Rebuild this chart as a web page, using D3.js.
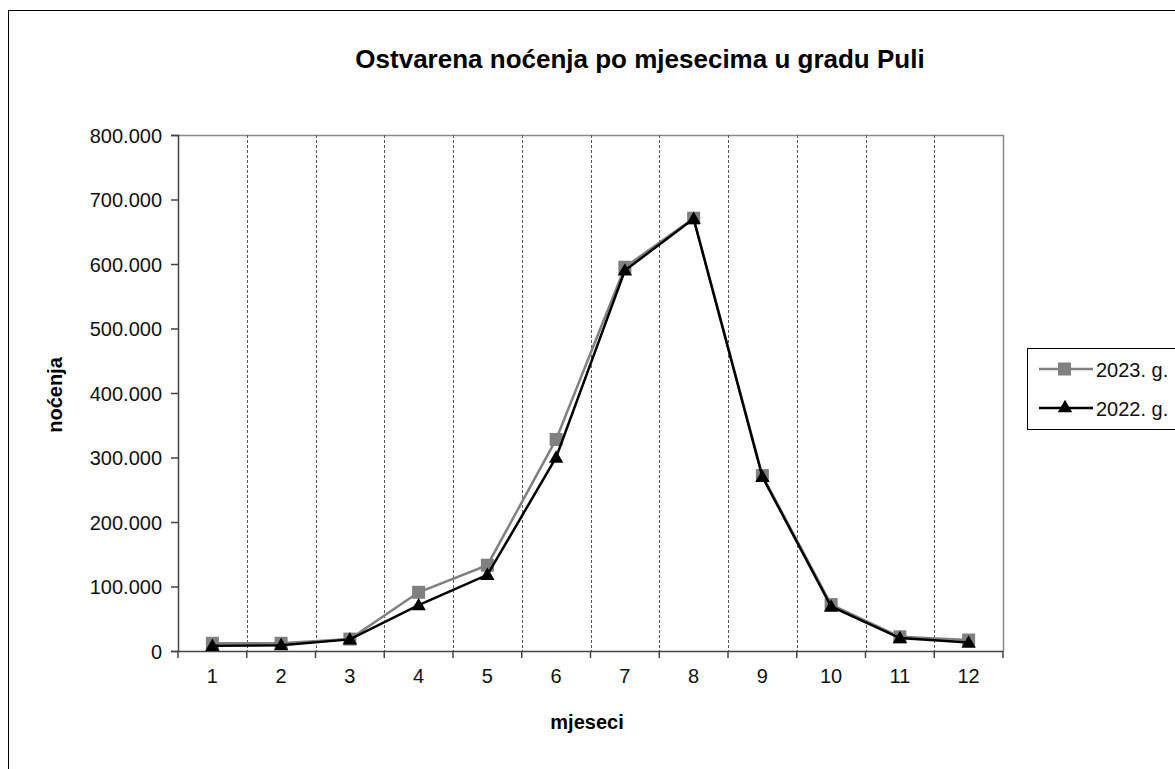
<!DOCTYPE html>
<html><head><meta charset="utf-8">
<script src="https://cdn.jsdelivr.net/npm/d3@7"></script>
<style>body{margin:0;background:#fff}svg{display:block;font-family:"Liberation Sans",Arial,sans-serif}</style>
</head><body>
<svg id="c" width="1175" height="769"></svg>
<script>
const months = ["1","2","3","4","5","6","7","8","9","10","11","12"];
const values2023 = [12000, 12000, 18500, 91000, 133000, 328000, 595000, 671000, 272000, 72000, 22000, 17000];
const values2022 = [8000, 9000, 18000, 71000, 118000, 300000, 590000, 670000, 270000, 69000, 20000, 13000];
const yTicks = [0,100000,200000,300000,400000,500000,600000,700000,800000];
const seriesNames = ["2023. g.", "2022. g."];

const svg = d3.select("#c");
const L=178, R=1003, T=135, B=651;
const x = d3.scaleBand().domain(months).range([L,R]);
const y = d3.scaleLinear().domain([0,800000]).range([B,T]);
const fmt = v => v===0 ? "0" : d3.format(",")(v).replace(/,/g,".");
const FF = "Liberation Sans, Arial, sans-serif";

// outer frame
svg.append("rect").attr("x",8.5).attr("y",10.5).attr("width",1200).attr("height",800)
  .attr("fill","none").attr("stroke","#000").attr("stroke-width",1);

// plot border (top, right)
svg.append("path").attr("d",`M${L},${T+0.5}H${R+0.5}V${B}`).attr("fill","none").attr("stroke","#888").attr("stroke-width",1.5);

// vertical dashed gridlines at band boundaries
const bounds = months.slice(1).map(m=>x(m));
svg.append("g").selectAll("line").data(bounds).join("line")
  .attr("x1",d=>Math.round(d)+0.5).attr("x2",d=>Math.round(d)+0.5).attr("y1",T).attr("y2",B)
  .attr("stroke","#555").attr("stroke-width",1).attr("stroke-dasharray","3,2");

// y axis
const ya = svg.append("g").attr("transform",`translate(${L},0)`)
  .call(d3.axisLeft(y).tickValues(yTicks).tickFormat(fmt).tickSize(7).tickPadding(9));
ya.select(".domain").attr("stroke","#444").attr("stroke-width",1.5);
ya.selectAll(".tick line").attr("stroke","#444").attr("stroke-width",1.5);
ya.selectAll("text").attr("font-size",20).attr("fill","#111").attr("font-family",FF).attr("dy","0.36em");

// x axis
const xa = svg.append("g").attr("transform",`translate(0,${B})`)
  .call(d3.axisBottom(x).tickSize(0).tickPadding(18));
xa.select(".domain").attr("stroke","#444").attr("stroke-width",1.5);
xa.selectAll("text").attr("font-size",20).attr("fill","#111").attr("font-family",FF);
const edges = [L].concat(bounds, [R]);
svg.append("g").selectAll("line").data(edges).join("line")
  .attr("x1",d=>d).attr("x2",d=>d).attr("y1",B).attr("y2",B+7)
  .attr("stroke","#444").attr("stroke-width",1.5);

const cx = m => x(m)+x.bandwidth()/2;
const line = d3.line().x((d,i)=>cx(months[i])).y(d=>y(d));

// 2023 series
svg.append("path").datum(values2023).attr("d",line).attr("fill","none").attr("stroke","#808080").attr("stroke-width",2.5);
svg.append("g").selectAll("rect").data(values2023).join("rect")
  .attr("x",(d,i)=>cx(months[i])-6.5).attr("y",d=>y(d)-6.5).attr("width",13).attr("height",13).attr("fill","#808080");

// 2022 series
const tri = d3.symbol().type(d3.symbolTriangle).size(90);
svg.append("path").datum(values2022).attr("d",line).attr("fill","none").attr("stroke","#000").attr("stroke-width",2.5);
svg.append("g").selectAll("path").data(values2022).join("path")
  .attr("d",tri).attr("transform",(d,i)=>`translate(${cx(months[i])},${y(d)+1})`).attr("fill","#000");

// title
svg.append("text").attr("x",640).attr("y",68).attr("text-anchor","middle")
  .attr("font-size",26).attr("font-weight","bold").text("Ostvarena noćenja po mjesecima u gradu Puli");
// axis titles
svg.append("text").attr("transform","translate(62,395) rotate(-90)").attr("text-anchor","middle")
  .attr("font-size",20).attr("font-weight","bold").text("noćenja");
svg.append("text").attr("x",587).attr("y",729).attr("text-anchor","middle")
  .attr("font-size",20).attr("font-weight","bold").text("mjeseci");

// legend
const lg = svg.append("g");
lg.append("rect").attr("x",1027.5).attr("y",348.5).attr("width",200).attr("height",81)
  .attr("fill","#fff").attr("stroke","#000").attr("stroke-width",1);
const ly = [369, 408];
lg.append("line").attr("x1",1039).attr("x2",1093).attr("y1",ly[0]).attr("y2",ly[0]).attr("stroke","#808080").attr("stroke-width",2.5);
lg.append("rect").attr("x",1058).attr("y",ly[0]-6.5).attr("width",13).attr("height",13).attr("fill","#808080");
lg.append("line").attr("x1",1039).attr("x2",1093).attr("y1",ly[1]).attr("y2",ly[1]).attr("stroke","#000").attr("stroke-width",2.5);
lg.append("path").attr("d",tri).attr("transform",`translate(1065,${ly[1]})`).attr("fill","#000");
lg.selectAll("text.l").data(seriesNames).join("text").attr("class","l")
  .attr("x",1096).attr("y",(d,i)=>ly[i]+8).attr("font-size",20).attr("fill","#111").text(d=>d);
</script>
</body></html>
